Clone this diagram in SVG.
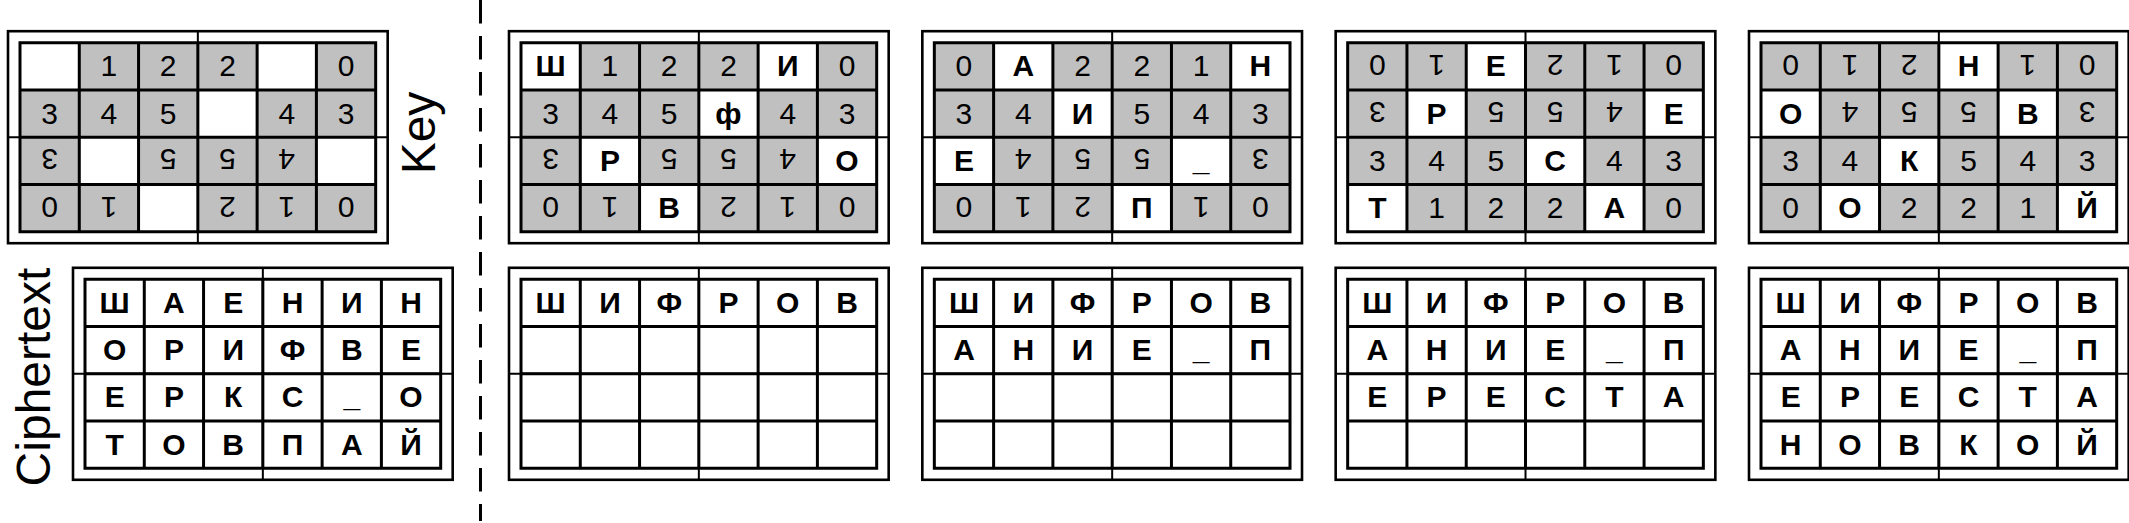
<svg xmlns="http://www.w3.org/2000/svg" xmlns:xlink="http://www.w3.org/1999/xlink" width="2129" height="523" viewBox="0 0 2129 523">
<style>
text{font-family:"Liberation Sans",Arial,sans-serif;font-size:30px;text-anchor:middle;fill:#000}
.b{font-weight:bold}
.lbl{font-size:48px}
</style>
<defs>
<g id="frame">
<line x1="177.84" y1="-11.5" x2="177.84" y2="200.5" stroke="#000" stroke-width="2"/>
<line x1="-12" y1="94.5" x2="367.68" y2="94.5" stroke="#000" stroke-width="2"/>
<rect x="-12" y="-11.5" width="379.68" height="212" fill="none" stroke="#000" stroke-width="2.6"/>
</g>
<rect id="gray" width="355.68" height="189" fill="#c0c0c0"/>
<rect id="cell" width="59.28" height="47.25" fill="#fff"/>
<path id="lines" fill="none" stroke="#000" stroke-width="3" d="M0,0H355.68V189H0Z M59.28,0V189 M118.56,0V189 M177.84,0V189 M237.12,0V189 M296.4,0V189 M0,47.25H355.68 M0,94.5H355.68 M0,141.75H355.68"/>
</defs>

<g id="separator">
<line x1="480.5" y1="0" x2="480.5" y2="521" stroke="#000" stroke-width="3" stroke-dasharray="23.5 12.5"/>
</g>

<g id="labels">
<text class="lbl" transform="translate(435,133) rotate(-90)">Key</text>
<text class="lbl" transform="translate(50,377) rotate(-90)">Ciphertext</text>
</g>

<g id="key-left" transform="translate(20,42.7)">
<use xlink:href="#frame"/><use xlink:href="#gray"/>
<use xlink:href="#cell" x="0" y="0"/><use xlink:href="#cell" x="237.12" y="0"/><use xlink:href="#cell" x="177.84" y="47.25"/><use xlink:href="#cell" x="59.28" y="94.5"/><use xlink:href="#cell" x="296.4" y="94.5"/><use xlink:href="#cell" x="118.56" y="141.75"/>
<use xlink:href="#lines"/>
<text x="88.92" y="33.6">1</text><text x="148.2" y="33.6">2</text><text x="207.48" y="33.6">2</text><text x="326.04" y="33.6">0</text>
<text x="29.64" y="80.9">3</text><text x="88.92" y="80.9">4</text><text x="148.2" y="80.9">5</text><text x="266.76" y="80.9">4</text><text x="326.04" y="80.9">3</text>
<text x="29.64" y="128.1" transform="rotate(180 29.64 117.4)">3</text><text x="148.2" y="128.1" transform="rotate(180 148.2 117.4)">5</text><text x="207.48" y="128.1" transform="rotate(180 207.48 117.4)">5</text><text x="266.76" y="128.1" transform="rotate(180 266.76 117.4)">4</text>
<text x="29.64" y="175.4" transform="rotate(180 29.64 164.6)">0</text><text x="88.92" y="175.4" transform="rotate(180 88.92 164.6)">1</text><text x="207.48" y="175.4" transform="rotate(180 207.48 164.6)">2</text><text x="266.76" y="175.4" transform="rotate(180 266.76 164.6)">1</text><text x="326.04" y="175.4" transform="rotate(180 326.04 164.6)">0</text>
</g>

<g id="cipher-left" transform="translate(85,279.3)">
<use xlink:href="#frame"/>
<use xlink:href="#lines"/>
<text class="b" x="29.64" y="33.6">Ш</text><text class="b" x="88.92" y="33.6">А</text><text class="b" x="148.2" y="33.6">Е</text><text class="b" x="207.48" y="33.6">Н</text><text class="b" x="266.76" y="33.6">И</text><text class="b" x="326.04" y="33.6">Н</text>
<text class="b" x="29.64" y="80.9">О</text><text class="b" x="88.92" y="80.9">Р</text><text class="b" x="148.2" y="80.9">И</text><text class="b" x="207.48" y="80.9">Ф</text><text class="b" x="266.76" y="80.9">В</text><text class="b" x="326.04" y="80.9">Е</text>
<text class="b" x="29.64" y="128.1">Е</text><text class="b" x="88.92" y="128.1">Р</text><text class="b" x="148.2" y="128.1">К</text><text class="b" x="207.48" y="128.1">С</text><text class="b" x="266.76" y="128.1">_</text><text class="b" x="326.04" y="128.1">О</text>
<text class="b" x="29.64" y="175.4">Т</text><text class="b" x="88.92" y="175.4">О</text><text class="b" x="148.2" y="175.4">В</text><text class="b" x="207.48" y="175.4">П</text><text class="b" x="266.76" y="175.4">А</text><text class="b" x="326.04" y="175.4">Й</text>
</g>

<g id="key-1" transform="translate(521,42.7)">
<use xlink:href="#frame"/><use xlink:href="#gray"/>
<use xlink:href="#cell" x="0" y="0"/><use xlink:href="#cell" x="237.12" y="0"/><use xlink:href="#cell" x="177.84" y="47.25"/><use xlink:href="#cell" x="59.28" y="94.5"/><use xlink:href="#cell" x="296.4" y="94.5"/><use xlink:href="#cell" x="118.56" y="141.75"/>
<use xlink:href="#lines"/>
<text class="b" x="29.64" y="33.6">Ш</text><text x="88.92" y="33.6">1</text><text x="148.2" y="33.6">2</text><text x="207.48" y="33.6">2</text><text class="b" x="266.76" y="33.6">И</text><text x="326.04" y="33.6">0</text>
<text x="29.64" y="80.9">3</text><text x="88.92" y="80.9">4</text><text x="148.2" y="80.9">5</text><text class="b" x="207.48" y="80.9">ф</text><text x="266.76" y="80.9">4</text><text x="326.04" y="80.9">3</text>
<text x="29.64" y="128.1" transform="rotate(180 29.64 117.4)">3</text><text class="b" x="88.92" y="128.1">Р</text><text x="148.2" y="128.1" transform="rotate(180 148.2 117.4)">5</text><text x="207.48" y="128.1" transform="rotate(180 207.48 117.4)">5</text><text x="266.76" y="128.1" transform="rotate(180 266.76 117.4)">4</text><text class="b" x="326.04" y="128.1">О</text>
<text x="29.64" y="175.4" transform="rotate(180 29.64 164.6)">0</text><text x="88.92" y="175.4" transform="rotate(180 88.92 164.6)">1</text><text class="b" x="148.2" y="175.4">В</text><text x="207.48" y="175.4" transform="rotate(180 207.48 164.6)">2</text><text x="266.76" y="175.4" transform="rotate(180 266.76 164.6)">1</text><text x="326.04" y="175.4" transform="rotate(180 326.04 164.6)">0</text>
</g>

<g id="cipher-1" transform="translate(521,279.3)">
<use xlink:href="#frame"/>
<use xlink:href="#lines"/>
<text class="b" x="29.64" y="33.6">Ш</text><text class="b" x="88.92" y="33.6">И</text><text class="b" x="148.2" y="33.6">Ф</text><text class="b" x="207.48" y="33.6">Р</text><text class="b" x="266.76" y="33.6">О</text><text class="b" x="326.04" y="33.6">В</text>
</g>

<g id="key-2" transform="translate(934.33,42.7)">
<use xlink:href="#frame"/><use xlink:href="#gray"/>
<use xlink:href="#cell" x="59.28" y="0"/><use xlink:href="#cell" x="296.4" y="0"/><use xlink:href="#cell" x="118.56" y="47.25"/><use xlink:href="#cell" x="0" y="94.5"/><use xlink:href="#cell" x="237.12" y="94.5"/><use xlink:href="#cell" x="177.84" y="141.75"/>
<use xlink:href="#lines"/>
<text x="29.64" y="33.6">0</text><text class="b" x="88.92" y="33.6">А</text><text x="148.2" y="33.6">2</text><text x="207.48" y="33.6">2</text><text x="266.76" y="33.6">1</text><text class="b" x="326.04" y="33.6">Н</text>
<text x="29.64" y="80.9">3</text><text x="88.92" y="80.9">4</text><text class="b" x="148.2" y="80.9">И</text><text x="207.48" y="80.9">5</text><text x="266.76" y="80.9">4</text><text x="326.04" y="80.9">3</text>
<text class="b" x="29.64" y="128.1">Е</text><text x="88.92" y="128.1" transform="rotate(180 88.92 117.4)">4</text><text x="148.2" y="128.1" transform="rotate(180 148.2 117.4)">5</text><text x="207.48" y="128.1" transform="rotate(180 207.48 117.4)">5</text><text class="b" x="266.76" y="128.1">_</text><text x="326.04" y="128.1" transform="rotate(180 326.04 117.4)">3</text>
<text x="29.64" y="175.4" transform="rotate(180 29.64 164.6)">0</text><text x="88.92" y="175.4" transform="rotate(180 88.92 164.6)">1</text><text x="148.2" y="175.4" transform="rotate(180 148.2 164.6)">2</text><text class="b" x="207.48" y="175.4">П</text><text x="266.76" y="175.4" transform="rotate(180 266.76 164.6)">1</text><text x="326.04" y="175.4" transform="rotate(180 326.04 164.6)">0</text>
</g>

<g id="cipher-2" transform="translate(934.33,279.3)">
<use xlink:href="#frame"/>
<use xlink:href="#lines"/>
<text class="b" x="29.64" y="33.6">Ш</text><text class="b" x="88.92" y="33.6">И</text><text class="b" x="148.2" y="33.6">Ф</text><text class="b" x="207.48" y="33.6">Р</text><text class="b" x="266.76" y="33.6">О</text><text class="b" x="326.04" y="33.6">В</text>
<text class="b" x="29.64" y="80.9">А</text><text class="b" x="88.92" y="80.9">Н</text><text class="b" x="148.2" y="80.9">И</text><text class="b" x="207.48" y="80.9">Е</text><text class="b" x="266.76" y="80.9">_</text><text class="b" x="326.04" y="80.9">П</text>
</g>

<g id="key-3" transform="translate(1347.67,42.7)">
<use xlink:href="#frame"/><use xlink:href="#gray"/>
<use xlink:href="#cell" x="118.56" y="0"/><use xlink:href="#cell" x="59.28" y="47.25"/><use xlink:href="#cell" x="296.4" y="47.25"/><use xlink:href="#cell" x="177.84" y="94.5"/><use xlink:href="#cell" x="0" y="141.75"/><use xlink:href="#cell" x="237.12" y="141.75"/>
<use xlink:href="#lines"/>
<text x="29.64" y="33.6" transform="rotate(180 29.64 22.9)">0</text><text x="88.92" y="33.6" transform="rotate(180 88.92 22.9)">1</text><text class="b" x="148.2" y="33.6">Е</text><text x="207.48" y="33.6" transform="rotate(180 207.48 22.9)">2</text><text x="266.76" y="33.6" transform="rotate(180 266.76 22.9)">1</text><text x="326.04" y="33.6" transform="rotate(180 326.04 22.9)">0</text>
<text x="29.64" y="80.9" transform="rotate(180 29.64 70.1)">3</text><text class="b" x="88.92" y="80.9">Р</text><text x="148.2" y="80.9" transform="rotate(180 148.2 70.1)">5</text><text x="207.48" y="80.9" transform="rotate(180 207.48 70.1)">5</text><text x="266.76" y="80.9" transform="rotate(180 266.76 70.1)">4</text><text class="b" x="326.04" y="80.9">Е</text>
<text x="29.64" y="128.1">3</text><text x="88.92" y="128.1">4</text><text x="148.2" y="128.1">5</text><text class="b" x="207.48" y="128.1">С</text><text x="266.76" y="128.1">4</text><text x="326.04" y="128.1">3</text>
<text class="b" x="29.64" y="175.4">Т</text><text x="88.92" y="175.4">1</text><text x="148.2" y="175.4">2</text><text x="207.48" y="175.4">2</text><text class="b" x="266.76" y="175.4">А</text><text x="326.04" y="175.4">0</text>
</g>

<g id="cipher-3" transform="translate(1347.67,279.3)">
<use xlink:href="#frame"/>
<use xlink:href="#lines"/>
<text class="b" x="29.64" y="33.6">Ш</text><text class="b" x="88.92" y="33.6">И</text><text class="b" x="148.2" y="33.6">Ф</text><text class="b" x="207.48" y="33.6">Р</text><text class="b" x="266.76" y="33.6">О</text><text class="b" x="326.04" y="33.6">В</text>
<text class="b" x="29.64" y="80.9">А</text><text class="b" x="88.92" y="80.9">Н</text><text class="b" x="148.2" y="80.9">И</text><text class="b" x="207.48" y="80.9">Е</text><text class="b" x="266.76" y="80.9">_</text><text class="b" x="326.04" y="80.9">П</text>
<text class="b" x="29.64" y="128.1">Е</text><text class="b" x="88.92" y="128.1">Р</text><text class="b" x="148.2" y="128.1">Е</text><text class="b" x="207.48" y="128.1">С</text><text class="b" x="266.76" y="128.1">Т</text><text class="b" x="326.04" y="128.1">А</text>
</g>

<g id="key-4" transform="translate(1761,42.7)">
<use xlink:href="#frame"/><use xlink:href="#gray"/>
<use xlink:href="#cell" x="177.84" y="0"/><use xlink:href="#cell" x="0" y="47.25"/><use xlink:href="#cell" x="237.12" y="47.25"/><use xlink:href="#cell" x="118.56" y="94.5"/><use xlink:href="#cell" x="59.28" y="141.75"/><use xlink:href="#cell" x="296.4" y="141.75"/>
<use xlink:href="#lines"/>
<text x="29.64" y="33.6" transform="rotate(180 29.64 22.9)">0</text><text x="88.92" y="33.6" transform="rotate(180 88.92 22.9)">1</text><text x="148.2" y="33.6" transform="rotate(180 148.2 22.9)">2</text><text class="b" x="207.48" y="33.6">Н</text><text x="266.76" y="33.6" transform="rotate(180 266.76 22.9)">1</text><text x="326.04" y="33.6" transform="rotate(180 326.04 22.9)">0</text>
<text class="b" x="29.64" y="80.9">О</text><text x="88.92" y="80.9" transform="rotate(180 88.92 70.1)">4</text><text x="148.2" y="80.9" transform="rotate(180 148.2 70.1)">5</text><text x="207.48" y="80.9" transform="rotate(180 207.48 70.1)">5</text><text class="b" x="266.76" y="80.9">В</text><text x="326.04" y="80.9" transform="rotate(180 326.04 70.1)">3</text>
<text x="29.64" y="128.1">3</text><text x="88.92" y="128.1">4</text><text class="b" x="148.2" y="128.1">К</text><text x="207.48" y="128.1">5</text><text x="266.76" y="128.1">4</text><text x="326.04" y="128.1">3</text>
<text x="29.64" y="175.4">0</text><text class="b" x="88.92" y="175.4">О</text><text x="148.2" y="175.4">2</text><text x="207.48" y="175.4">2</text><text x="266.76" y="175.4">1</text><text class="b" x="326.04" y="175.4">Й</text>
</g>

<g id="cipher-4" transform="translate(1761,279.3)">
<use xlink:href="#frame"/>
<use xlink:href="#lines"/>
<text class="b" x="29.64" y="33.6">Ш</text><text class="b" x="88.92" y="33.6">И</text><text class="b" x="148.2" y="33.6">Ф</text><text class="b" x="207.48" y="33.6">Р</text><text class="b" x="266.76" y="33.6">О</text><text class="b" x="326.04" y="33.6">В</text>
<text class="b" x="29.64" y="80.9">А</text><text class="b" x="88.92" y="80.9">Н</text><text class="b" x="148.2" y="80.9">И</text><text class="b" x="207.48" y="80.9">Е</text><text class="b" x="266.76" y="80.9">_</text><text class="b" x="326.04" y="80.9">П</text>
<text class="b" x="29.64" y="128.1">Е</text><text class="b" x="88.92" y="128.1">Р</text><text class="b" x="148.2" y="128.1">Е</text><text class="b" x="207.48" y="128.1">С</text><text class="b" x="266.76" y="128.1">Т</text><text class="b" x="326.04" y="128.1">А</text>
<text class="b" x="29.64" y="175.4">Н</text><text class="b" x="88.92" y="175.4">О</text><text class="b" x="148.2" y="175.4">В</text><text class="b" x="207.48" y="175.4">К</text><text class="b" x="266.76" y="175.4">О</text><text class="b" x="326.04" y="175.4">Й</text>
</g>
</svg>
